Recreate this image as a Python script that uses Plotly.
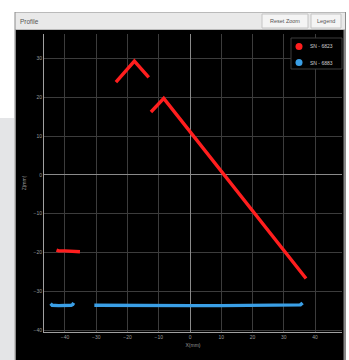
import plotly.graph_objects as go

# Profile scan data (X and Z in mm); None separates scan segments
sn6823_x = [-42.7, -42.0, -40.0, -38.0, -36.0, -35.2, None,
            -23.7, -17.8, -13.2, None,
            -12.5, -8.4, 37.1]
sn6823_z = [-19.4, -19.6, -19.6, -19.6, -19.7, -19.8, None,
            23.9, 29.3, 25.1, None,
            16.2, 19.7, -26.7]

sn6883_x = [-44.6, -44.1, -42.0, -40.0, -38.0, -37.5, -37.2, None,
            -30.6, -20.0, -10.0, 0.0, 10.0, 20.0, 30.0, 35.3, 36.0]
sn6883_z = [-33.2, -33.6, -33.7, -33.7, -33.6, -33.4, -33.0, None,
            -33.6, -33.7, -33.7, -33.7, -33.7, -33.7, -33.7, -33.5, -33.0]

series_names = ["SN - 6823", "SN - 6883"]
series_colors = ["#ff1e1e", "#3a9fe6"]

x_ticks = [-40, -30, -20, -10, 0, 10, 20, 30, 40]
y_ticks = [-40, -30, -20, -10, 0, 10, 20, 30]

W, H = 349, 360
ML, MR, MT, MB = 44, 7, 34, 28
PW, PH = W - ML - MR, H - MT - MB


def px(x):
    return (x - ML) / PW


def py(y):
    return (H - MB - y) / PH


fig = go.Figure()

for xs, zs, name, color in [(sn6823_x, sn6823_z, series_names[0], series_colors[0]),
                            (sn6883_x, sn6883_z, series_names[1], series_colors[1])]:
    fig.add_trace(go.Scatter(x=xs, y=zs, mode="lines", name=name,
                             line=dict(color=color, width=3.4),
                             showlegend=False, hoverinfo="skip"))

shapes = [
    # grey side strip of the page
    dict(type="rect", xref="paper", yref="paper", layer="below",
         x0=px(0), x1=px(14), y0=py(118), y1=py(361),
         fillcolor="#e4e5e7", line=dict(width=0)),
    # panel frame
    dict(type="rect", xref="paper", yref="paper", layer="below",
         x0=px(14.5), x1=px(346), y0=py(12), y1=py(361),
         fillcolor="#8a8a8a", line=dict(width=0)),
    # panel header bar
    dict(type="rect", xref="paper", yref="paper", layer="below",
         x0=px(15.5), x1=px(345), y0=py(12.5), y1=py(29.5),
         fillcolor="#e9e9e9", line=dict(width=0)),
    # black chart body
    dict(type="rect", xref="paper", yref="paper", layer="below",
         x0=px(16), x1=px(343.5), y0=py(30), y1=py(361),
         fillcolor="#000000", line=dict(width=0)),
    # header buttons
    dict(type="rect", xref="paper", yref="paper", layer="below",
         x0=px(262), x1=px(308), y0=py(14), y1=py(28),
         fillcolor="#f4f4f4", line=dict(color="#c4c4c4", width=1)),
    dict(type="rect", xref="paper", yref="paper", layer="below",
         x0=px(311), x1=px(341), y0=py(14), y1=py(28),
         fillcolor="#f4f4f4", line=dict(color="#c4c4c4", width=1)),
    # legend box
    dict(type="rect", xref="paper", yref="paper", layer="above",
         x0=px(291), x1=px(342), y0=py(38), y1=py(69),
         fillcolor="#000000", line=dict(color="#3c3c3c", width=1)),
]

annotations = [
    dict(text="Profile", xref="paper", yref="paper", x=px(18), y=py(21),
         xanchor="left", yanchor="middle", showarrow=False,
         font=dict(size=6.5, color="#555555", family="Liberation Sans")),
    dict(text="Reset Zoom", xref="paper", yref="paper", x=px(285), y=py(21),
         xanchor="center", yanchor="middle", showarrow=False,
         font=dict(size=5.5, color="#555555", family="Liberation Sans")),
    dict(text="Legend", xref="paper", yref="paper", x=px(326), y=py(21),
         xanchor="center", yanchor="middle", showarrow=False,
         font=dict(size=5.5, color="#555555", family="Liberation Sans")),
]

# legend entries: coloured dot + series label
for i, (name, color) in enumerate(zip(series_names, series_colors)):
    cy = 46.5 + 16 * i
    shapes.append(dict(type="circle", xref="paper", yref="paper", layer="above",
                       x0=px(295.5), x1=px(302.5), y0=py(cy - 3.5), y1=py(cy + 3.5),
                       fillcolor=color, line=dict(width=0)))
    annotations.append(dict(text=name, xref="paper", yref="paper",
                            x=px(308), y=py(cy), xanchor="left", yanchor="middle",
                            showarrow=False,
                            font=dict(size=5, color="#cfcfcf", family="Liberation Sans")))

axis_font = dict(size=5, color="#9a9a9a", family="Liberation Sans")

fig.update_layout(
    width=W, height=H,
    margin=dict(l=ML, r=MR, t=MT, b=MB, pad=0),
    paper_bgcolor="#ffffff",
    plot_bgcolor="rgba(0,0,0,0)",
    shapes=shapes,
    annotations=annotations,
    showlegend=False,
    xaxis=dict(range=[-46.7, 48.6], tickvals=x_ticks, ticks="",
               showgrid=True, gridcolor="#3c3c3c", gridwidth=1,
               zeroline=True, zerolinecolor="#8a8a8a", zerolinewidth=1,
               showline=True, linecolor="#a0a0a0", linewidth=1,
               tickfont=axis_font,
               title=dict(text="X(mm)", font=axis_font, standoff=4)),
    yaxis=dict(range=[-40.5, 36.3], tickvals=y_ticks, ticks="",
               showgrid=True, gridcolor="#3c3c3c", gridwidth=1,
               zeroline=True, zerolinecolor="#8a8a8a", zerolinewidth=1,
               showline=True, linecolor="#a0a0a0", linewidth=1,
               tickfont=axis_font,
               title=dict(text="Z(mm)", font=axis_font, standoff=6)),
)

fig.write_html("out.html")
